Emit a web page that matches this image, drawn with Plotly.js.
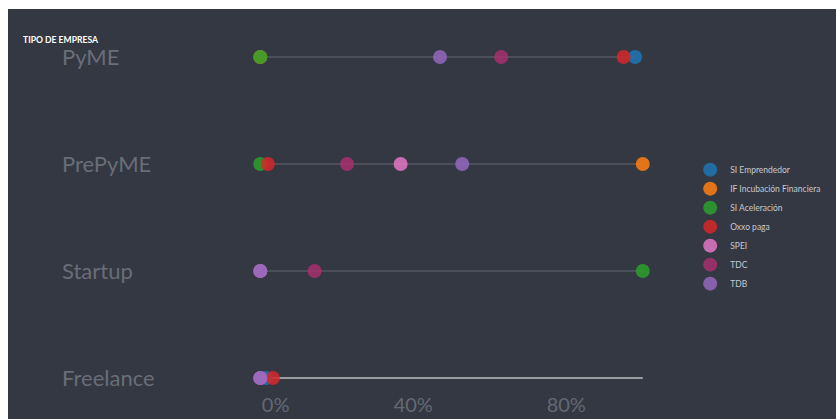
<!DOCTYPE html>
<html>
<head>
<meta charset="utf-8">
<script src="https://cdn.plot.ly/plotly-3.0.1.min.js"></script>
<style>
  html, body { margin: 0; padding: 0; background: #ffffff; width: 836px; height: 419px; overflow: hidden; }
  #chart { position: absolute; left: 8px; top: 9px; width: 828px; height: 410px; }
</style>
</head>
<body>
<div id="chart"></div>
<script>
// ---- data ----
const categories = ['PyME', 'PrePyME', 'Startup', 'Freelance'];
const seriesNames = ['SI Emprendedor', 'IF Incubación Financiera', 'SI Aceleración', 'Oxxo paga', 'SPEI', 'TDC', 'TDB'];
const siEmprendedor = [98, null, null, 1.5];
const ifIncubacion = [0, 100, null, null];
const siAceleracion = [0, 0, 100, null];
const oxxoPaga = [95, 2, null, 3.3];
const spei = [null, 36.7, 0, 0];
const tdc = [63, 22.7, 14.2, null];
const tdb = [47, 52.8, 0, 0];
const lineStart = [0, 0, 0, 0];
const lineEnd = [98, 100, 100, 100];
const tickValues = [0, 40, 80];
const tickLabels = ['\u00a0\u00a0\u00a0\u00a0\u00a0\u00a00%', '40%', '80%'];

// ---- styles ----
const seriesValues = [siEmprendedor, ifIncubacion, siAceleracion, oxxoPaga, spei, tdc, tdb];
const seriesColors = ['#1f77b4', '#ff7f0e', '#2ca02c', '#d62728', '#e377c2', '#a8306f', '#9467bd'];
const lineColors = ['#4b4f5a', '#4b4f5a', '#4b4f5a', '#9a9ca2'];

const traces = [];
categories.forEach((c, i) => {
  traces.push({
    x: [lineStart[i], lineEnd[i]],
    y: [c, c],
    mode: 'lines',
    line: { color: lineColors[i], width: 2 },
    showlegend: false,
    hoverinfo: 'skip'
  });
});
seriesNames.forEach((name, k) => {
  traces.push({
    x: seriesValues[k],
    y: categories,
    name: name,
    mode: 'markers',
    type: 'scatter',
    marker: { color: seriesColors[k], size: 14, opacity: 0.85, line: { width: 0 } },
    cliponaxis: false
  });
});

const annotations = categories.map(c => ({
  text: c,
  xref: 'paper', x: -0.3525, xanchor: 'left',
  yref: 'y', y: c, yanchor: 'middle',
  showarrow: false,
  font: { family: 'Lato', size: 22, color: '#696d78' }
}));

const layout = {
  width: 828, height: 410,
  paper_bgcolor: '#343843',
  plot_bgcolor: '#343843',
  margin: { l: 213.75, r: 155.25, t: 10, b: 28 },
  title: {
    text: '<b>TIPO DE EMPRESA</b>',
    xref: 'container', x: 15 / 828, xanchor: 'left',
    yref: 'container', y: 1 - 31 / 410, yanchor: 'middle',
    font: { family: 'Lato', size: 8.6, color: '#ffffff' }
  },
  xaxis: {
    range: [-10, 110],
    tickvals: tickValues,
    ticktext: tickLabels,
    showgrid: false, zeroline: false, showline: false,
    ticks: '',
    tickfont: { family: 'Lato', size: 20, color: '#646874' }
  },
  yaxis: {
    type: 'category',
    categoryarray: categories,
    range: [3.122, -0.355],
    showgrid: false, zeroline: false, showline: false,
    showticklabels: false, ticks: ''
  },
  legend: {
    x: 1.02, xanchor: 'left',
    y: 0.634, yanchor: 'top',
    bgcolor: 'rgba(0,0,0,0)',
    font: { family: 'Lato', size: 8.5, color: '#c5c8cf' }
  },
  annotations: annotations,
  showlegend: true
};

Plotly.newPlot('chart', traces, layout, { displayModeBar: false, staticPlot: true });
</script>
</body>
</html>
